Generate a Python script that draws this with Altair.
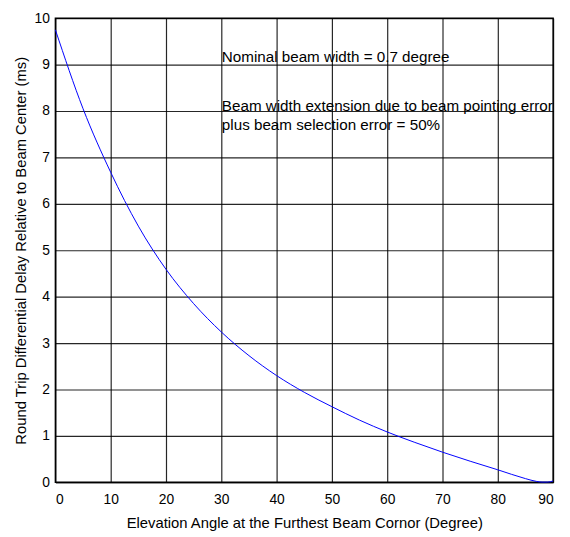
import altair as alt
import pandas as pd

# Curve
angle = [0, 5, 10, 15, 20, 25, 30, 35, 40, 45, 50, 55, 60, 65, 70, 75, 80, 85, 87, 88, 89, 90]
delay = [9.75, 8.05, 6.68, 5.52, 4.59, 3.85, 3.24, 2.73, 2.30, 1.94, 1.63, 1.34, 1.085,
         0.86, 0.65, 0.455, 0.27, 0.08, 0.02, 0.005, 0.005, 0.03]

# Annotations
note_text = ["Nominal beam width = 0.7 degree",
             "Beam width extension due to beam pointing error",
             "plus beam selection error = 50%"]
note_x = [30.1, 30.1, 30.1]
note_y = [9.06, 8.01, 7.59]

x_ticks = [0, 10, 20, 30, 40, 50, 60, 70, 80, 90]
y_ticks = [0, 1, 2, 3, 4, 5, 6, 7, 8, 9, 10]

FONT = "Liberation Sans, Arial, Helvetica, sans-serif"

curve = pd.DataFrame({"angle": angle, "delay": delay})
notes = pd.DataFrame({"x": note_x, "y": note_y, "t": note_text})

xscale = alt.Scale(domain=[0, 90], nice=False, zero=False)
yscale = alt.Scale(domain=[0, 10], nice=False, zero=False)

line = alt.Chart(curve).mark_line(color="#0000FF", strokeWidth=1, interpolate="monotone").encode(
    x=alt.X("angle:Q", scale=xscale,
            axis=alt.Axis(values=x_ticks, title="Elevation Angle at the Furthest Beam Cornor (Degree)",
                          grid=True, gridColor="#000000", gridWidth=1.2, gridOpacity=0.85,
                          ticks=False, domain=False, labelPadding=10, labelFontSize=14,
                          titleFontSize=15, titleFontWeight="normal", titlePadding=10,
                          labelColor="#000", titleColor="#000", labelFont=FONT, titleFont=FONT)),
    y=alt.Y("delay:Q", scale=yscale,
            axis=alt.Axis(values=y_ticks, title="Round Trip Differential Delay Relative to Beam Center (ms)",
                          grid=True, gridColor="#000000", gridWidth=1.2, gridOpacity=0.85,
                          ticks=False, domain=False, labelPadding=6, labelFontSize=14,
                          titleFontSize=15, titleFontWeight="normal", titlePadding=6,
                          labelColor="#000", titleColor="#000", labelFont=FONT, titleFont=FONT)),
)

text = alt.Chart(notes).mark_text(align="left", baseline="alphabetic", fontSize=15.4,
                                  font=FONT, color="#000").encode(
    x=alt.X("x:Q", scale=xscale),
    y=alt.Y("y:Q", scale=yscale),
    text="t:N",
)

chart = alt.layer(line, text).properties(
    width=504, height=470,
    autosize=alt.AutoSizeParams(type="none"),
    padding={"left": 48, "top": 7, "right": 9, "bottom": 50},
    background="white",
).configure_view(stroke="#000000", strokeWidth=1.5)

chart.save("out.html", embed_options={"renderer": "svg", "actions": False})
